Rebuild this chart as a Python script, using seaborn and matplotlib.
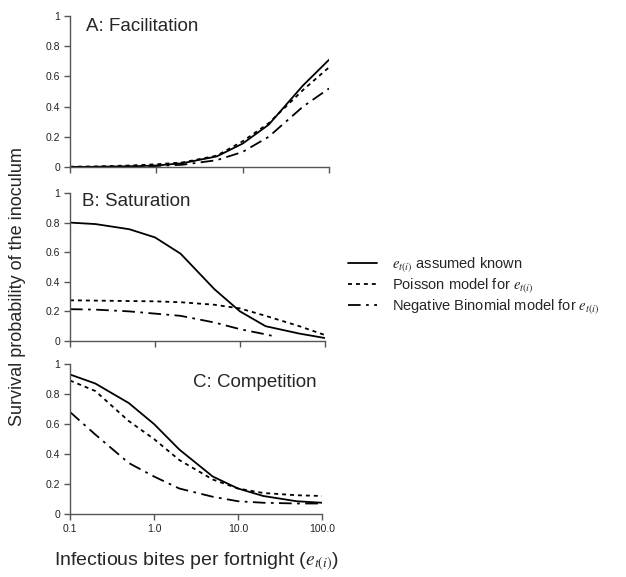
import numpy as np
import pandas as pd
import matplotlib.pyplot as plt
import seaborn as sns

sns.set_style("ticks")
plt.rcParams['font.family'] = ['Liberation Sans', 'DejaVu Sans']
plt.rcParams['mathtext.fontset'] = 'stix'

# bites per fortnight (log axis)
bites = [0.1, 0.2, 0.5, 1, 2, 5, 10, 20, 50, 100]

# A: Facilitation
known_a = [0.0, 0.001, 0.004, 0.01, 0.025, 0.07, 0.155, 0.28, 0.54, 0.71]
poisson_a = [0.002, 0.004, 0.01, 0.018, 0.03, 0.075, 0.17, 0.29, 0.51, 0.66]
negbin_a = [0.0, 0.001, 0.003, 0.007, 0.015, 0.045, 0.10, 0.20, 0.40, 0.52]

# B: Saturation
known_b = [0.80, 0.79, 0.755, 0.70, 0.59, 0.35, 0.20, 0.10, 0.05, 0.02]
poisson_b = [0.275, 0.273, 0.27, 0.268, 0.262, 0.245, 0.22, 0.17, 0.10, 0.04]
bites_nb_b = [0.1, 0.2, 0.5, 1, 2, 5, 10, 20, 26]
negbin_b = [0.215, 0.212, 0.20, 0.185, 0.17, 0.125, 0.08, 0.045, 0.03]

# C: Competition
known_c = [0.93, 0.87, 0.74, 0.60, 0.43, 0.25, 0.17, 0.12, 0.085, 0.075]
poisson_c = [0.89, 0.82, 0.62, 0.50, 0.36, 0.23, 0.17, 0.14, 0.125, 0.12]
negbin_c = [0.68, 0.53, 0.34, 0.25, 0.17, 0.115, 0.085, 0.075, 0.07, 0.07]

ytick_vals = [0, 0.2, 0.4, 0.6, 0.8, 1.0]
ytick_labels = ['0', '0.2', '0.4', '0.6', '0.8', '1']
xtick_vals = [0.1, 1, 10, 100]
xtick_labels = ['0.1', '1.0', '10.0', '100.0']

labels = [r'$e_{t(i)}$ assumed known',
          r'Poisson model for $e_{t(i)}$',
          r'Negative Binomial model for $e_{t(i)}$']
styles = ['-', (0, (2.2, 2.2)), (0, (7, 3, 1.5, 3))]

W, H = 626, 577
fig = plt.figure(figsize=(W / 100, H / 100), dpi=100)


def make_axes(x0, x1, ytop, ybot):
    return fig.add_axes([x0 / W, (H - ybot) / H, (x1 - x0) / W, (ybot - ytop) / H])


panels = [
    ('A: Facilitation', make_axes(70, 329, 16, 167),
     [(bites, known_a), (bites, poisson_a), (bites, negbin_a)]),
    ('B: Saturation', make_axes(70, 325, 193, 341),
     [(bites, known_b), (bites, poisson_b), (bites_nb_b, negbin_b)]),
    ('C: Competition', make_axes(70, 322, 364, 514),
     [(bites, known_c), (bites, poisson_c), (bites, negbin_c)]),
]

for i, (title, ax, series) in enumerate(panels):
    for (xs, ys), ls, lab in zip(series, styles, labels):
        df = pd.DataFrame({'bites': xs, 'surv': ys})
        sns.lineplot(data=df, x='bites', y='surv', ax=ax, color='black',
                     linestyle=ls, linewidth=1.3, label=lab, legend=False)
    ax.set_xscale('log')
    ax.set_xlim(0.1, 100)
    ax.set_ylim(0, 1)
    ax.set_yticks(ytick_vals)
    ax.set_yticklabels(ytick_labels)
    ax.set_xticks(xtick_vals)
    ax.minorticks_off()
    if i == 2:
        ax.set_xticklabels(xtick_labels)
    else:
        ax.set_xticklabels([])
    ax.set_xlabel('')
    ax.set_ylabel('')
    for side in ['top', 'right']:
        ax.spines[side].set_visible(False)
    for side in ['left', 'bottom']:
        ax.spines[side].set_color('#555555')
        ax.spines[side].set_linewidth(1.0)
    ax.tick_params(axis='both', direction='out', length=4, width=1.0,
                   color='#555555', labelsize=7.5, labelcolor='#222222', pad=3)

    if i == 0:
        ax.text(0.062, 0.93, title, transform=ax.transAxes, fontsize=13.5,
                ha='left', va='center')
    elif i == 1:
        ax.text(0.047, 0.94, title, transform=ax.transAxes, fontsize=13.5,
                ha='left', va='center')
    else:
        ax.text(0.98, 0.875, title, transform=ax.transAxes, fontsize=13.5,
                ha='right', va='center')

fig.text(18 / W, 1 - 287 / H, 'Survival probability of the inoculum',
         rotation=90, ha='center', va='center', fontsize=13)
fig.text(196 / W, 1 - 562 / H, r'Infectious bites per fortnight ($e_{t(i)}$)',
         ha='center', va='center', fontsize=14)

handles = panels[2][1].get_lines()[:3]
fig.legend(handles, labels, loc='center left', bbox_to_anchor=(342 / W, 1 - 286 / H),
           frameon=False, fontsize=10.5, handlelength=2.0, handletextpad=1.0,
           labelspacing=0.15, borderaxespad=0)

fig.savefig('out.png', dpi=100)
